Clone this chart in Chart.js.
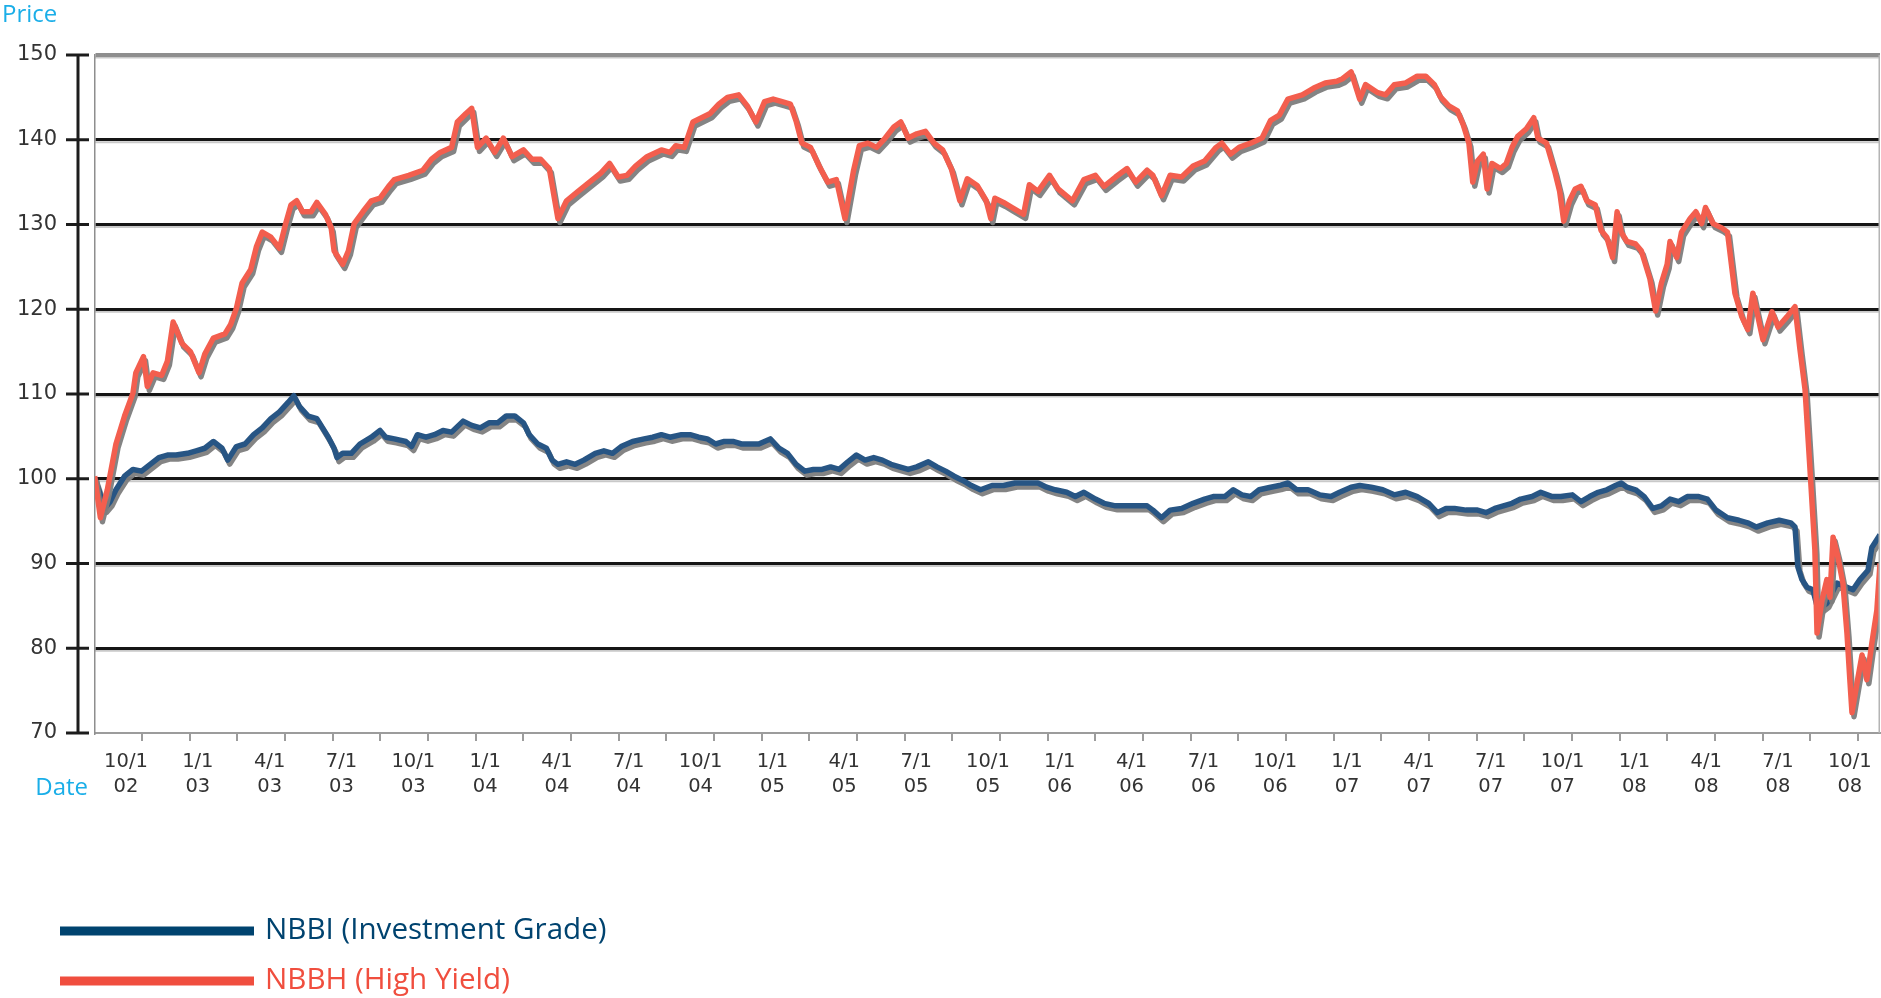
<!DOCTYPE html>
<html>
<head>
<meta charset="utf-8">
<title>NBBI vs NBBH</title>
<script src="https://cdn.jsdelivr.net/npm/chart.js@4.4.1/dist/chart.umd.min.js"></script>
<style>
  html, body { margin: 0; padding: 0; background: #fff; }
  #wrap { width: 1881px; height: 998px; position: relative; }
</style>
</head>
<body>
<div id="wrap"><canvas id="bondChart"></canvas></div>
<script>
// x positions are months after 1 Oct 2002
const quarterLabels = [
  ['10/1', '02'], ['1/1', '03'], ['4/1', '03'], ['7/1', '03'], ['10/1', '03'],
  ['1/1', '04'], ['4/1', '04'], ['7/1', '04'], ['10/1', '04'],
  ['1/1', '05'], ['4/1', '05'], ['7/1', '05'], ['10/1', '05'],
  ['1/1', '06'], ['4/1', '06'], ['7/1', '06'], ['10/1', '06'],
  ['1/1', '07'], ['4/1', '07'], ['7/1', '07'], ['10/1', '07'],
  ['1/1', '08'], ['4/1', '08'], ['7/1', '08'], ['10/1', '08']
];
const yTicks = [70, 80, 90, 100, 110, 120, 130, 140, 150];

const nbbiMonths = [
  -1.31, -1.14, -0.90, -0.66, -0.42, -0.06, 0.29, 0.65, 1.01, 1.37, 1.73, 2.09, 2.57, 2.93,
  3.29, 3.65, 4.01, 4.25, 4.61, 4.97, 5.33, 5.69, 6.05, 6.41, 6.77, 7.01, 7.25, 7.61, 7.97,
  8.21, 8.45, 8.69, 8.81, 9.05, 9.41, 9.77, 10.25, 10.61, 10.85, 11.21, 11.69, 11.93, 12.17,
  12.53, 12.88, 13.24, 13.60, 14.08, 14.44, 14.80, 15.16, 15.52, 15.88, 16.24, 16.60, 16.84,
  17.20, 17.56, 17.80, 18.04, 18.40, 18.76, 19.12, 19.60, 19.96, 20.32, 20.68, 21.16, 21.64,
  22.00, 22.36, 22.72, 23.20, 23.56, 23.92, 24.28, 24.63, 24.99, 25.35, 25.71, 26.07, 26.43,
  26.91, 27.27, 27.63, 27.99, 28.35, 28.71, 29.07, 29.43, 29.79, 30.15, 30.51, 30.87, 31.23,
  31.59, 31.95, 32.31, 32.67, 33.03, 33.51, 33.87, 34.23, 34.59, 34.95, 35.31, 35.69, 36.17,
  36.65, 37.13, 37.61, 38.09, 38.45, 38.81, 39.29, 39.65, 40.01, 40.49, 40.85, 41.33, 41.81,
  42.29, 42.65, 42.89, 43.25, 43.61, 44.09, 44.57, 45.05, 45.41, 45.89, 46.25, 46.61, 46.97,
  47.33, 47.81, 48.17, 48.53, 48.89, 49.37, 49.85, 50.33, 50.69, 51.17, 51.53, 52.01, 52.49,
  52.97, 53.45, 53.93, 54.41, 54.77, 55.13, 55.49, 55.97, 56.45, 56.81, 57.17, 57.53, 57.89,
  58.25, 58.73, 59.09, 59.57, 59.93, 60.41, 60.77, 61.13, 61.49, 61.85, 62.21, 62.45, 62.69,
  63.05, 63.41, 63.77, 64.13, 64.49, 64.85, 65.21, 65.69, 66.05, 66.41, 66.89, 67.37, 67.73,
  68.09, 68.57, 69.05, 69.53, 69.71, 69.83, 70.00, 70.21, 70.46, 70.67, 71.04, 71.46, 71.88,
  72.13, 72.42, 72.76, 72.92, 73.26
];
const nbbiValues = [
  100.1, 98.7, 96.5, 97.3, 98.7, 100.3, 101.1, 100.9, 101.7, 102.5, 102.8, 102.8, 103, 103.3,
  103.6, 104.4, 103.6, 102.2, 103.8, 104.1, 105.2, 106, 107.1, 107.9, 109, 109.8, 108.5, 107.4, 107.1,
  106, 104.9, 103.6, 102.5, 103, 103, 104.1, 104.9, 105.7, 104.9, 104.7, 104.4, 103.8, 105.2,
  104.9, 105.2, 105.7, 105.5, 106.8, 106.3, 106, 106.6, 106.6, 107.4, 107.4, 106.6, 105.2,
  104.1, 103.6, 102.2, 101.7, 102, 101.7, 102.2, 103, 103.3, 103, 103.8, 104.4, 104.7,
  104.9, 105.2, 104.9, 105.2, 105.2, 104.9, 104.7, 104.1, 104.4, 104.4, 104.1, 104.1, 104.1,
  104.7, 103.6, 103, 101.7, 100.9, 101.1, 101.1, 101.4, 101.1, 102, 102.8, 102.2, 102.5,
  102.2, 101.7, 101.4, 101.1, 101.4, 102, 101.4, 100.9, 100.3, 99.8, 99.2, 98.7, 99.2,
  99.2, 99.5, 99.5, 99.5, 99, 98.7, 98.4, 97.9, 98.4, 97.6, 97.1, 96.8, 96.8,
  96.8, 96.8, 96.3, 95.4, 96.3, 96.5, 97.1, 97.6, 97.9, 97.9, 98.7, 98.1, 97.9,
  98.7, 99, 99.2, 99.5, 98.7, 98.7, 98.1, 97.9, 98.4, 99, 99.2, 99, 98.7,
  98.1, 98.4, 97.9, 97.1, 96, 96.5, 96.5, 96.3, 96.3, 96, 96.5, 96.8, 97.1,
  97.6, 97.9, 98.4, 97.9, 97.9, 98.1, 97.3, 97.9, 98.4, 98.7, 99.2, 99.5, 99,
  98.7, 97.9, 96.5, 96.8, 97.6, 97.3, 97.9, 97.9, 97.6, 96.3, 95.4, 95.1, 94.8,
  94.3, 94.8, 95.1, 94.8, 94.3, 89.6, 88.1, 87.2, 86.9, 84.5, 85.3, 87.7, 87.2,
  86.9, 88.1, 89.2, 91.9, 93.4
];

const nbbhMonths = [
  -1.31, -1.07, -0.78, -0.42, -0.06, 0.29, 0.41, 0.73, 0.89, 1.13, 1.49, 1.73, 1.97, 2.33,
  2.69, 3.05, 3.29, 3.65, 4.13, 4.37, 4.61, 4.85, 5.21, 5.45, 5.69, 6.05, 6.41, 6.65, 6.89,
  7.13, 7.37, 7.73, 7.97, 8.33, 8.57, 8.69, 9.05, 9.29, 9.53, 9.89, 10.25, 10.61, 10.97,
  11.21, 11.81, 12.40, 12.76, 13.12, 13.60, 13.84, 14.20, 14.44, 14.68, 15.04, 15.40, 15.76,
  16.12, 16.60, 16.96, 17.32, 17.68, 18.04, 18.40, 18.88, 19.36, 19.84, 20.20, 20.56, 20.92,
  21.28, 21.76, 22.36, 22.72, 22.96, 23.32, 23.68, 24.04, 24.40, 24.76, 25.12, 25.59, 25.95,
  26.31, 26.67, 27.03, 27.40, 27.75, 28.00, 28.23, 28.59, 28.95, 29.31, 29.67, 30.03, 30.39,
  30.63, 30.99, 31.35, 31.71, 32.07, 32.36, 32.67, 33.03, 33.39, 33.75, 34.11, 34.47, 34.83,
  35.14, 35.55, 35.93, 36.12, 36.29, 36.65, 37.01, 37.49, 37.73, 38.09, 38.57, 38.93, 39.53,
  40.01, 40.49, 40.85, 41.33, 41.81, 42.17, 42.65, 42.89, 43.25, 43.61, 44.09, 44.57, 45.05,
  45.53, 45.77, 46.13, 46.49, 46.97, 47.45, 47.81, 48.17, 48.53, 49.13, 49.61, 50.09, 50.57,
  50.81, 51.17, 51.53, 51.77, 52.25, 52.61, 52.97, 53.45, 53.93, 54.29, 54.65, 54.89, 55.25,
  55.61, 55.85, 56.09, 56.25, 56.45, 56.69, 56.85, 57.05, 57.41, 57.65, 57.89, 58.13, 58.49,
  58.80, 58.97, 59.33, 59.69, 59.88, 60.05, 60.29, 60.53, 60.77, 61.01, 61.37, 61.61, 61.85,
  62.09, 62.28, 62.45, 62.69, 63.05, 63.29, 63.65, 63.89, 64.13, 64.37, 64.49, 64.77, 64.97,
  65.33, 65.57, 65.81, 65.97, 66.29, 66.65, 66.89, 67.20, 67.49, 67.74, 67.95, 68.37, 68.75,
  69.00, 69.37, 69.71, 69.92, 70.13, 70.33, 70.54, 70.63, 70.84, 71.04, 71.17, 71.30, 71.50,
  71.71, 71.88, 72.01, 72.09, 72.30, 72.51, 72.71, 72.92, 73.13, 73.26
];
const nbbhValues = [
  100.3, 95.4, 98.7, 104.1, 107.4, 110.1, 112.5, 114.4, 110.9, 112.5, 112.2, 113.9, 118.5, 116,
  115, 112.5, 114.7, 116.6, 117.1, 118.2, 120.1, 123.1, 124.7, 127.4, 129.1, 128.5, 127.2, 129.9, 132.3,
  132.8, 131.5, 131.5, 132.6, 131.2, 129.6, 126.9, 125.3, 126.9, 130.1, 131.5, 132.8, 133.1, 134.5,
  135.3, 135.8, 136.4, 137.7, 138.5, 139.1, 142.1, 143.1, 143.7, 139.1, 140.2, 138.5, 140.2,
  138, 138.8, 137.7, 137.7, 136.6, 130.7, 132.8, 133.9, 135, 136.1, 137.2, 135.6, 135.8,
  136.9, 138, 138.8, 138.5, 139.3, 139.1, 142.1, 142.6, 143.1, 144.2, 145, 145.3, 144,
  142.1, 144.5, 144.8, 144.5, 144.2, 142.1, 139.6, 139.1, 136.9, 135, 135.3, 130.7, 136.4,
  139.3, 139.6, 139.1, 140.2, 141.5, 142.1, 140.2, 140.7, 141, 139.6, 138.8, 136.6, 132.8,
  135.4, 134.6, 132.8, 130.7, 133.1, 132.6, 132, 131.2, 134.7, 133.9, 135.8, 134.2, 132.8,
  135.3, 135.8, 134.5, 135.6, 136.6, 135, 136.4, 135.8, 133.4, 135.8, 135.6, 136.9, 137.5,
  139.1, 139.6, 138.3, 139.1, 139.6, 140.2, 142.3, 142.9, 144.8, 145.3, 146.1, 146.7, 146.9,
  147.2, 148, 144.8, 146.5, 145.6, 145.3, 146.5, 146.7, 147.5, 147.5, 146.5, 145.1, 144,
  143.4, 141.8, 139.6, 135, 137.5, 138.3, 134.2, 137.2, 136.6, 137.2, 139.1, 140.4, 141.3,
  142.6, 140.2, 139.6, 136.1, 133.9, 130.4, 132.8, 134.2, 134.5, 132.8, 132.3, 129.3, 128.5,
  126.1, 131.5, 129.1, 128, 127.7, 126.9, 123.6, 119.8, 123.1, 125.3, 128, 126.1, 129.1,
  130.7, 131.5, 130.1, 132, 130.1, 129.6, 129.1, 121.9, 119.1, 117.6, 121.9, 116.4, 119.7,
  117.9, 119.1, 120.3, 115.2, 110.5, 101.4, 91.6, 81.8, 85.7, 88.1, 86, 93.1, 90.8,
  87.7, 81.8, 75.9, 72.4, 75.9, 79.2, 76.3, 80.6, 84.5, 90
];

const toPoints = (xs, ys) => xs.map((x, i) => ({ x: x, y: ys[i] }));

// quarter labels sit every 3 months, small tick marks roughly every 2 months (as in the original)
const labelTicks = quarterLabels.map((l, i) => ({ value: i * 3, text: l }));
const markTicks = [];
for (let k = 0; k <= 36; k++) markTicks.push({ value: 0.668 + 1.991 * k, mark: true });

const seriesShadow = {
  id: 'seriesShadow',
  beforeDatasetDraw(chart) {
    const ctx = chart.ctx;
    ctx.save();
    ctx.shadowColor = 'rgba(125,125,125,0.95)';
    ctx.shadowOffsetX = 2;
    ctx.shadowOffsetY = 4;
    ctx.shadowBlur = 0;
  },
  afterDatasetDraw(chart) {
    chart.ctx.restore();
  }
};

const decor = {
  id: 'decor',
  beforeDraw(chart) {
    const { ctx, chartArea: a, scales: { y } } = chart;
    ctx.save();
    ctx.fillStyle = '#fff';
    ctx.fillRect(0, 0, chart.width, chart.height);
    // pale line under each grid line
    ctx.strokeStyle = '#c9c9c9';
    ctx.lineWidth = 2;
    y.ticks.forEach(t => {
      if (t.value <= 70) return;
      const py = y.getPixelForValue(t.value) + 2.5;
      ctx.beginPath();
      ctx.moveTo(a.left, py);
      ctx.lineTo(a.right, py);
      ctx.stroke();
    });
    ctx.restore();
  },
  afterDraw(chart) {
    const { ctx, chartArea: a, scales: { y } } = chart;
    ctx.save();
    ctx.strokeStyle = '#b4b4b4';
    ctx.lineWidth = 1.5;
    ctx.beginPath();
    ctx.moveTo(a.right - 0.75, a.top);
    ctx.lineTo(a.right - 0.75, a.bottom);
    ctx.stroke();

    // detached value axis with cross ticks
    const ax = 78;
    ctx.strokeStyle = '#1c1c1c';
    ctx.lineWidth = 3;
    ctx.beginPath();
    ctx.moveTo(ax, y.getPixelForValue(150));
    ctx.lineTo(ax, y.getPixelForValue(70));
    ctx.stroke();
    y.ticks.forEach(t => {
      const py = y.getPixelForValue(t.value);
      ctx.beginPath();
      ctx.moveTo(66, py);
      ctx.lineTo(89, py);
      ctx.stroke();
    });

    ctx.fillStyle = '#1aaee8';
    ctx.font = '24px "Open Sans"';
    ctx.textBaseline = 'alphabetic';
    ctx.textAlign = 'left';
    ctx.fillText('Price', 2, 22);
    ctx.textAlign = 'right';
    ctx.fillText('Date', 88, 795);

    // legend, stacked under the chart
    const rows = [
      { ds: chart.data.datasets[0], y: 931, color: '#00436f' },
      { ds: chart.data.datasets[1], y: 981, color: '#f04e3e' }
    ];
    ctx.font = '29.6px "Open Sans"';
    ctx.textAlign = 'left';
    ctx.textBaseline = 'middle';
    rows.forEach(r => {
      ctx.strokeStyle = r.color;
      ctx.lineWidth = 9;
      ctx.beginPath();
      ctx.moveTo(60, r.y);
      ctx.lineTo(254, r.y);
      ctx.stroke();
      ctx.fillStyle = r.color;
      ctx.fillText(r.ds.label, 265, r.y);
    });
    ctx.restore();
  }
};

new Chart(document.getElementById('bondChart'), {
  type: 'line',
  data: {
    datasets: [
      {
        label: 'NBBI (Investment Grade)',
        data: toPoints(nbbiMonths, nbbiValues),
        borderColor: '#275584',
        borderWidth: 5.5,
        borderJoinStyle: 'round',
        pointRadius: 0,
        tension: 0,
        order: 2
      },
      {
        label: 'NBBH (High Yield)',
        data: toPoints(nbbhMonths, nbbhValues),
        borderColor: '#f35e4e',
        borderWidth: 5.5,
        borderJoinStyle: 'round',
        pointRadius: 0,
        tension: 0,
        order: 1
      }
    ]
  },
  options: {
    responsive: true,
    maintainAspectRatio: false,
    animation: false,
    layout: { padding: { top: 55, right: 1, left: 0, bottom: 0 } },
    plugins: {
      legend: { display: false },
      tooltip: { enabled: false }
    },
    scales: {
      x: {
        type: 'linear',
        min: -1.295,
        max: 73.26,
        afterBuildTicks: (s) => {
          s.ticks = labelTicks.concat(markTicks)
            .map(t => Object.assign({}, t))
            .sort((p, q) => p.value - q.value);
        },
        afterFit: (s) => { s.height = 265; },
        ticks: {
          autoSkip: false,
          maxRotation: 0,
          minRotation: 0,
          padding: 8.5,
          color: '#333',
          font: { family: 'DejaVu Sans', size: 19.5, lineHeight: 1.282 },
          callback: function (v, i, ticks) { return ticks[i].text || ''; }
        },
        grid: {
          drawOnChartArea: false,
          drawTicks: true,
          tickLength: 8,
          lineWidth: 2,
          color: (c) => (c.tick && c.tick.mark ? '#9c9c9c' : 'rgba(0,0,0,0)')
        },
        border: { display: true, color: '#9c9c9c', width: 2 }
      },
      y: {
        min: 70,
        max: 150,
        afterBuildTicks: (s) => { s.ticks = yTicks.map(v => ({ value: v })); },
        afterFit: (s) => { s.width = 95; },
        ticks: {
          padding: 38,
          color: '#333',
          font: { family: 'DejaVu Sans', size: 21 }
        },
        grid: {
          drawTicks: false,
          color: (c) => {
            if (!c.tick) return '#151515';
            if (c.tick.value === 150) return '#8e8e8e';
            if (c.tick.value === 70) return 'rgba(0,0,0,0)';
            return '#151515';
          },
          lineWidth: (c) => (c.tick && c.tick.value === 150 ? 4 : 3)
        },
        border: { display: true, color: '#8e8e8e', width: 1.5 }
      }
    }
  },
  plugins: [decor, seriesShadow]
});
</script>
</body>
</html>
